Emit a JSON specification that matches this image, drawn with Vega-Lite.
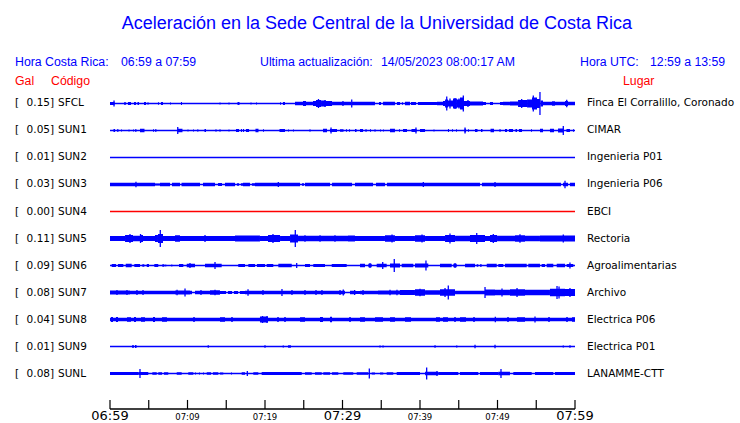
{
"$schema": "https://vega.github.io/schema/vega-lite/v6.json",
"width": 740, "height": 423,
"autosize": {"type": "none"},
"padding": 0,
"background": "white",
"config": {"view": {"stroke": null}},
"datasets": {
"stations": [
{"s":"SFCL","r":0,"gal":0.15,"lugar":"Finca El Corralillo, Coronado","col":"blue"},
{"s":"SUN1","r":1,"gal":0.05,"lugar":"CIMAR","col":"blue"},
{"s":"SUN2","r":2,"gal":0.01,"lugar":"Ingenieria P01","col":"blue"},
{"s":"SUN3","r":3,"gal":0.03,"lugar":"Ingenieria P06","col":"blue"},
{"s":"SUN4","r":4,"gal":0.00,"lugar":"EBCI","col":"red"},
{"s":"SUN5","r":5,"gal":0.11,"lugar":"Rectoria","col":"blue"},
{"s":"SUN6","r":6,"gal":0.09,"lugar":"Agroalimentarias","col":"blue"},
{"s":"SUN7","r":7,"gal":0.08,"lugar":"Archivo","col":"blue"},
{"s":"SUN8","r":8,"gal":0.04,"lugar":"Electrica P06","col":"blue"},
{"s":"SUN9","r":9,"gal":0.01,"lugar":"Electrica P01","col":"blue"},
{"s":"SUNL","r":10,"gal":0.08,"lugar":"LANAMME-CTT","col":"blue"}
],
"seg": [
{"s":"SFCL","t0":0,"t1":0.58,"a":3},{"s":"SFCL","t0":1.81,"t1":2.06,"a":2.5},{"s":"SFCL","t0":2.32,"t1":2.71,"a":3},{"s":"SFCL","t0":3.10,"t1":3.35,"a":3},{"s":"SFCL","t0":3.55,"t1":3.74,"a":3},{"s":"SFCL","t0":4.39,"t1":4.65,"a":3},{"s":"SFCL","t0":4.84,"t1":4.97,"a":2.5},{"s":"SFCL","t0":6.19,"t1":6.32,"a":2.5},{"s":"SFCL","t0":6.58,"t1":6.84,"a":3},{"s":"SFCL","t0":7.74,"t1":7.87,"a":2},{"s":"SFCL","t0":9.16,"t1":9.29,"a":3},{"s":"SFCL","t0":14.13,"t1":14.26,"a":2},{"s":"SFCL","t0":15.29,"t1":15.42,"a":2},{"s":"SFCL","t0":16.45,"t1":16.71,"a":3},{"s":"SFCL","t0":18.13,"t1":18.26,"a":2},{"s":"SFCL","t0":18.84,"t1":18.97,"a":2},{"s":"SFCL","t0":21.94,"t1":22.06,"a":2.5},{"s":"SFCL","t0":22.32,"t1":22.58,"a":3},
{"s":"SFCL","t0":23.87,"t1":24.90,"a":3.5},{"s":"SFCL","t0":24.90,"t1":25.29,"a":5},{"s":"SFCL","t0":25.29,"t1":26.19,"a":3.5},{"s":"SFCL","t0":26.19,"t1":26.58,"a":5},{"s":"SFCL","t0":26.58,"t1":27.23,"a":7},{"s":"SFCL","t0":27.23,"t1":27.87,"a":6},{"s":"SFCL","t0":27.87,"t1":28.65,"a":5},{"s":"SFCL","t0":28.65,"t1":31.10,"a":3.5},{"s":"SFCL","t0":31.23,"t1":34.19,"a":3.5},{"s":"SFCL","t0":34.71,"t1":34.97,"a":3},{"s":"SFCL","t0":35.23,"t1":36.77,"a":3.5},{"s":"SFCL","t0":37.03,"t1":37.42,"a":3},{"s":"SFCL","t0":37.68,"t1":37.81,"a":2.5},{"s":"SFCL","t0":38.06,"t1":38.71,"a":3.5},{"s":"SFCL","t0":38.84,"t1":39.48,"a":3},{"s":"SFCL","t0":39.74,"t1":42.19,"a":3},{"s":"SFCL","t0":42.19,"t1":42.97,"a":3.5},{"s":"SFCL","t0":42.97,"t1":43.23,"a":5},{"s":"SFCL","t0":43.23,"t1":43.61,"a":8},{"s":"SFCL","t0":43.61,"t1":44.26,"a":6},{"s":"SFCL","t0":44.26,"t1":44.77,"a":10},{"s":"SFCL","t0":44.77,"t1":45.16,"a":8},{"s":"SFCL","t0":45.16,"t1":45.68,"a":12},{"s":"SFCL","t0":45.68,"t1":46.45,"a":5},{"s":"SFCL","t0":46.45,"t1":48.13,"a":4},{"s":"SFCL","t0":48.13,"t1":48.52,"a":3},{"s":"SFCL","t0":49.03,"t1":49.42,"a":3},{"s":"SFCL","t0":50.32,"t1":50.71,"a":3},{"s":"SFCL","t0":50.71,"t1":51.61,"a":3.5},{"s":"SFCL","t0":51.61,"t1":52.65,"a":4},{"s":"SFCL","t0":52.65,"t1":53.81,"a":7},{"s":"SFCL","t0":53.81,"t1":54.45,"a":8},{"s":"SFCL","t0":54.45,"t1":55.10,"a":12},{"s":"SFCL","t0":55.10,"t1":55.48,"a":9},{"s":"SFCL","t0":55.55,"t1":55.87,"a":6},{"s":"SFCL","t0":55.87,"t1":57.03,"a":3.5},{"s":"SFCL","t0":57.03,"t1":57.42,"a":4.5},{"s":"SFCL","t0":57.42,"t1":58.71,"a":3.5},{"s":"SFCL","t0":58.71,"t1":59.10,"a":5},{"s":"SFCL","t0":59.10,"t1":60,"a":3.5},
{"s":"SUN1","t0":0.45,"t1":0.65,"a":3},{"s":"SUN1","t0":0.90,"t1":1.10,"a":2.5},{"s":"SUN1","t0":1.42,"t1":1.55,"a":2},{"s":"SUN1","t0":2.39,"t1":2.52,"a":2},{"s":"SUN1","t0":2.97,"t1":3.10,"a":2},{"s":"SUN1","t0":3.23,"t1":3.42,"a":2.5},{"s":"SUN1","t0":3.87,"t1":4.45,"a":3.5},{"s":"SUN1","t0":5.55,"t1":5.68,"a":2.5},{"s":"SUN1","t0":5.81,"t1":6.00,"a":2.5},{"s":"SUN1","t0":8.77,"t1":9.35,"a":3.5},{"s":"SUN1","t0":10.00,"t1":10.13,"a":2},{"s":"SUN1","t0":10.71,"t1":10.84,"a":2},{"s":"SUN1","t0":11.23,"t1":11.42,"a":2},{"s":"SUN1","t0":12.19,"t1":12.39,"a":3},{"s":"SUN1","t0":13.61,"t1":13.74,"a":2.5},{"s":"SUN1","t0":14.13,"t1":14.26,"a":2.5},{"s":"SUN1","t0":15.29,"t1":15.42,"a":2},{"s":"SUN1","t0":16.26,"t1":16.65,"a":3},{"s":"SUN1","t0":16.90,"t1":17.03,"a":3},{"s":"SUN1","t0":17.16,"t1":17.29,"a":3},{"s":"SUN1","t0":17.55,"t1":17.94,"a":3},{"s":"SUN1","t0":18.77,"t1":19.16,"a":3.5},{"s":"SUN1","t0":19.74,"t1":19.87,"a":2.5},{"s":"SUN1","t0":21.87,"t1":22.58,"a":3},{"s":"SUN1","t0":22.97,"t1":23.10,"a":2},{"s":"SUN1","t0":23.61,"t1":23.74,"a":2},{"s":"SUN1","t0":25.74,"t1":25.87,"a":2.5},{"s":"SUN1","t0":27.48,"t1":28.00,"a":3.5},{"s":"SUN1","t0":28.39,"t1":29.29,"a":3},{"s":"SUN1","t0":29.68,"t1":30.13,"a":2.5},{"s":"SUN1","t0":30.45,"t1":30.58,"a":2.5},{"s":"SUN1","t0":30.84,"t1":30.97,"a":2.5},{"s":"SUN1","t0":31.61,"t1":31.81,"a":3},{"s":"SUN1","t0":32.26,"t1":32.65,"a":3},{"s":"SUN1","t0":32.97,"t1":33.10,"a":3},{"s":"SUN1","t0":33.55,"t1":33.68,"a":2.5},{"s":"SUN1","t0":34.13,"t1":34.26,"a":2.5},{"s":"SUN1","t0":34.84,"t1":34.97,"a":2},{"s":"SUN1","t0":35.23,"t1":35.35,"a":2},{"s":"SUN1","t0":36.13,"t1":36.77,"a":3.5},{"s":"SUN1","t0":37.29,"t1":37.42,"a":2.5},{"s":"SUN1","t0":37.81,"t1":38.32,"a":3},{"s":"SUN1","t0":38.90,"t1":39.55,"a":3},{"s":"SUN1","t0":40.00,"t1":40.65,"a":3},{"s":"SUN1","t0":41.74,"t1":41.87,"a":2},{"s":"SUN1","t0":43.61,"t1":43.74,"a":3},{"s":"SUN1","t0":44.13,"t1":44.26,"a":2.5},{"s":"SUN1","t0":44.65,"t1":44.77,"a":2.5},{"s":"SUN1","t0":45.74,"t1":45.94,"a":3.5},{"s":"SUN1","t0":46.19,"t1":46.32,"a":2.5},{"s":"SUN1","t0":47.10,"t1":47.42,"a":3},{"s":"SUN1","t0":47.87,"t1":48.06,"a":3},{"s":"SUN1","t0":49.10,"t1":49.55,"a":3.5},{"s":"SUN1","t0":50.26,"t1":50.39,"a":3},{"s":"SUN1","t0":50.97,"t1":51.23,"a":3},{"s":"SUN1","t0":51.48,"t1":52.00,"a":3},{"s":"SUN1","t0":52.32,"t1":52.52,"a":3},{"s":"SUN1","t0":52.77,"t1":53.16,"a":3},{"s":"SUN1","t0":54.32,"t1":54.45,"a":2.5},{"s":"SUN1","t0":55.48,"t1":55.87,"a":3.5},{"s":"SUN1","t0":56.77,"t1":57.29,"a":3.5},{"s":"SUN1","t0":57.81,"t1":58.52,"a":4},{"s":"SUN1","t0":58.90,"t1":59.35,"a":3},{"s":"SUN1","t0":59.74,"t1":59.87,"a":2.5},
{"s":"SUN3","t0":0,"t1":5.81,"a":3.5},{"s":"SUN3","t0":5.81,"t1":6.45,"a":2},{"s":"SUN3","t0":6.45,"t1":7.74,"a":3.5},{"s":"SUN3","t0":8.00,"t1":9.03,"a":3.5},{"s":"SUN3","t0":9.23,"t1":11.61,"a":3.5},{"s":"SUN3","t0":12.00,"t1":13.55,"a":3.5},{"s":"SUN3","t0":13.94,"t1":14.45,"a":3},{"s":"SUN3","t0":14.84,"t1":16.13,"a":3.5},{"s":"SUN3","t0":16.39,"t1":16.65,"a":2.5},{"s":"SUN3","t0":16.90,"t1":17.16,"a":2.5},{"s":"SUN3","t0":17.16,"t1":18.06,"a":3.5},{"s":"SUN3","t0":18.32,"t1":18.71,"a":2.5},{"s":"SUN3","t0":18.71,"t1":24.52,"a":3.5},{"s":"SUN3","t0":24.77,"t1":25.03,"a":2.5},{"s":"SUN3","t0":25.16,"t1":28.39,"a":3.5},{"s":"SUN3","t0":28.65,"t1":31.23,"a":3.5},{"s":"SUN3","t0":31.61,"t1":33.94,"a":3.5},{"s":"SUN3","t0":34.32,"t1":35.48,"a":3.5},{"s":"SUN3","t0":35.74,"t1":47.74,"a":3.5},{"s":"SUN3","t0":48.00,"t1":58.19,"a":3.5},{"s":"SUN3","t0":58.45,"t1":59.10,"a":3.5},{"s":"SUN3","t0":59.35,"t1":60,"a":3.5},
{"s":"SUN5","t0":0,"t1":1.94,"a":5},{"s":"SUN5","t0":1.94,"t1":2.97,"a":7},{"s":"SUN5","t0":2.97,"t1":3.87,"a":5.5},{"s":"SUN5","t0":3.87,"t1":4.26,"a":7},{"s":"SUN5","t0":4.26,"t1":5.81,"a":5},{"s":"SUN5","t0":5.81,"t1":6.19,"a":7},{"s":"SUN5","t0":6.19,"t1":6.84,"a":9},{"s":"SUN5","t0":6.84,"t1":8.39,"a":5},{"s":"SUN5","t0":8.39,"t1":9.03,"a":6.5},{"s":"SUN5","t0":9.03,"t1":16.13,"a":5},{"s":"SUN5","t0":16.13,"t1":19.35,"a":6},{"s":"SUN5","t0":19.35,"t1":20.39,"a":5},{"s":"SUN5","t0":20.39,"t1":21.94,"a":7},{"s":"SUN5","t0":21.94,"t1":23.23,"a":5},{"s":"SUN5","t0":23.23,"t1":24.26,"a":8},{"s":"SUN5","t0":24.26,"t1":30.71,"a":5.5},{"s":"SUN5","t0":30.71,"t1":31.61,"a":6},{"s":"SUN5","t0":31.61,"t1":35.48,"a":5},{"s":"SUN5","t0":35.48,"t1":36.77,"a":6.5},{"s":"SUN5","t0":36.77,"t1":39.35,"a":5},{"s":"SUN5","t0":39.35,"t1":40.65,"a":6.5},{"s":"SUN5","t0":40.65,"t1":43.23,"a":5},{"s":"SUN5","t0":43.23,"t1":44.52,"a":7},{"s":"SUN5","t0":44.52,"t1":46.45,"a":5.5},{"s":"SUN5","t0":46.45,"t1":48.39,"a":7},{"s":"SUN5","t0":48.39,"t1":49.03,"a":5},{"s":"SUN5","t0":49.03,"t1":49.94,"a":7},{"s":"SUN5","t0":49.94,"t1":52.26,"a":5.5},{"s":"SUN5","t0":52.26,"t1":53.55,"a":6.5},{"s":"SUN5","t0":53.55,"t1":55.48,"a":5.5},{"s":"SUN5","t0":55.48,"t1":60,"a":6},
{"s":"SUN6","t0":0.22,"t1":0.77,"a":3},{"s":"SUN6","t0":1.03,"t1":1.72,"a":3},{"s":"SUN6","t0":2.03,"t1":2.80,"a":3.5},{"s":"SUN6","t0":3.14,"t1":3.87,"a":3},{"s":"SUN6","t0":4.17,"t1":4.43,"a":2.5},{"s":"SUN6","t0":4.74,"t1":5.03,"a":3},{"s":"SUN6","t0":5.72,"t1":6.23,"a":3},{"s":"SUN6","t0":6.75,"t1":7.01,"a":2.5},{"s":"SUN6","t0":7.14,"t1":7.26,"a":2},{"s":"SUN6","t0":7.91,"t1":8.04,"a":2},{"s":"SUN6","t0":8.90,"t1":9.46,"a":3},{"s":"SUN6","t0":9.90,"t1":10.97,"a":3.5},{"s":"SUN6","t0":12.26,"t1":14.41,"a":3.5},{"s":"SUN6","t0":16.55,"t1":17.42,"a":3},{"s":"SUN6","t0":17.85,"t1":18.71,"a":3},{"s":"SUN6","t0":18.97,"t1":20.00,"a":3},{"s":"SUN6","t0":20.22,"t1":21.07,"a":3},{"s":"SUN6","t0":21.72,"t1":23.45,"a":3.5},{"s":"SUN6","t0":25.16,"t1":25.81,"a":3},{"s":"SUN6","t0":26.23,"t1":27.74,"a":3},{"s":"SUN6","t0":28.61,"t1":30.54,"a":3},{"s":"SUN6","t0":32.26,"t1":32.90,"a":3.5},{"s":"SUN6","t0":33.33,"t1":33.77,"a":3.5},{"s":"SUN6","t0":34.41,"t1":35.70,"a":3.5},{"s":"SUN6","t0":36.13,"t1":37.42,"a":4},{"s":"SUN6","t0":37.64,"t1":39.14,"a":3.5},{"s":"SUN6","t0":39.35,"t1":41.07,"a":4},{"s":"SUN6","t0":42.58,"t1":44.09,"a":3.5},{"s":"SUN6","t0":44.30,"t1":44.74,"a":3.5},{"s":"SUN6","t0":45.81,"t1":47.10,"a":3.5},{"s":"SUN6","t0":47.32,"t1":47.52,"a":2.5},{"s":"SUN6","t0":47.74,"t1":47.96,"a":2.5},{"s":"SUN6","t0":48.61,"t1":49.90,"a":3.5},{"s":"SUN6","t0":50.10,"t1":50.75,"a":3},{"s":"SUN6","t0":50.97,"t1":53.77,"a":3.5},{"s":"SUN6","t0":53.97,"t1":55.48,"a":3.5},{"s":"SUN6","t0":55.70,"t1":56.13,"a":3},{"s":"SUN6","t0":56.35,"t1":57.20,"a":3.5},{"s":"SUN6","t0":57.64,"t1":58.71,"a":3.5},{"s":"SUN6","t0":58.93,"t1":59.78,"a":3},
{"s":"SUN7","t0":0,"t1":2.58,"a":4},{"s":"SUN7","t0":2.58,"t1":8.39,"a":3.5},{"s":"SUN7","t0":8.39,"t1":10.32,"a":4},{"s":"SUN7","t0":10.32,"t1":10.58,"a":3.5},{"s":"SUN7","t0":10.97,"t1":12.90,"a":3.5},{"s":"SUN7","t0":12.90,"t1":14.19,"a":4.5},{"s":"SUN7","t0":14.19,"t1":14.97,"a":3},{"s":"SUN7","t0":15.23,"t1":15.74,"a":3},{"s":"SUN7","t0":16.00,"t1":16.52,"a":3},{"s":"SUN7","t0":16.77,"t1":17.42,"a":3},{"s":"SUN7","t0":17.42,"t1":30.32,"a":3.5},{"s":"SUN7","t0":30.97,"t1":31.61,"a":3.5},{"s":"SUN7","t0":31.61,"t1":32.26,"a":3},{"s":"SUN7","t0":32.26,"t1":34.58,"a":3.5},{"s":"SUN7","t0":34.58,"t1":37.42,"a":4},{"s":"SUN7","t0":37.42,"t1":39.35,"a":5},{"s":"SUN7","t0":39.35,"t1":40.65,"a":6.5},{"s":"SUN7","t0":40.65,"t1":42.58,"a":4.5},{"s":"SUN7","t0":42.58,"t1":44.52,"a":6.5},{"s":"SUN7","t0":44.52,"t1":48.39,"a":3.5},{"s":"SUN7","t0":48.39,"t1":49.68,"a":6},{"s":"SUN7","t0":49.68,"t1":51.61,"a":5.5},{"s":"SUN7","t0":51.61,"t1":53.55,"a":6.5},{"s":"SUN7","t0":53.55,"t1":56.77,"a":5.5},{"s":"SUN7","t0":56.77,"t1":58.71,"a":7.5},{"s":"SUN7","t0":58.71,"t1":60,"a":7},
{"s":"SUN8","t0":0,"t1":60,"a":3.5},{"s":"SUN8","t0":0.13,"t1":0.39,"a":5},{"s":"SUN8","t0":0.77,"t1":1.03,"a":5},{"s":"SUN8","t0":2.19,"t1":2.71,"a":4.5},{"s":"SUN8","t0":3.10,"t1":3.35,"a":5},{"s":"SUN8","t0":4.00,"t1":4.52,"a":4.5},{"s":"SUN8","t0":5.55,"t1":5.81,"a":5},{"s":"SUN8","t0":6.71,"t1":7.35,"a":4.5},{"s":"SUN8","t0":10.71,"t1":10.97,"a":4.5},{"s":"SUN8","t0":14.19,"t1":14.84,"a":4.5},{"s":"SUN8","t0":15.61,"t1":15.87,"a":4.5},{"s":"SUN8","t0":19.35,"t1":20.39,"a":6},{"s":"SUN8","t0":21.55,"t1":21.81,"a":4.5},{"s":"SUN8","t0":22.45,"t1":22.71,"a":4.5},{"s":"SUN8","t0":24.52,"t1":25.16,"a":4.5},{"s":"SUN8","t0":27.10,"t1":27.48,"a":5},{"s":"SUN8","t0":28.39,"t1":28.65,"a":5.5},{"s":"SUN8","t0":30.84,"t1":31.10,"a":4.5},{"s":"SUN8","t0":32.26,"t1":32.90,"a":4.5},{"s":"SUN8","t0":34.19,"t1":35.23,"a":4.5},{"s":"SUN8","t0":36.13,"t1":36.77,"a":4.5},{"s":"SUN8","t0":38.06,"t1":38.84,"a":4.5},{"s":"SUN8","t0":42.06,"t1":42.58,"a":4.5},{"s":"SUN8","t0":42.97,"t1":43.61,"a":4.5},{"s":"SUN8","t0":44.39,"t1":44.65,"a":4.5},{"s":"SUN8","t0":45.16,"t1":45.94,"a":4.5},{"s":"SUN8","t0":46.84,"t1":47.10,"a":4.5},{"s":"SUN8","t0":51.23,"t1":51.48,"a":4.5},{"s":"SUN8","t0":52.52,"t1":53.55,"a":4.5},{"s":"SUN8","t0":56.52,"t1":56.77,"a":4.5},{"s":"SUN8","t0":58.84,"t1":59.10,"a":4.5},{"s":"SUN8","t0":59.61,"t1":60,"a":4.5},
{"s":"SUN9","t0":2.84,"t1":3.10,"a":2.5},{"s":"SUN9","t0":3.23,"t1":3.42,"a":3},
{"s":"SUNL","t0":0,"t1":3.65,"a":3},{"s":"SUNL","t0":3.65,"t1":4.94,"a":3},{"s":"SUNL","t0":5.46,"t1":6.03,"a":2.5},{"s":"SUNL","t0":6.23,"t1":6.71,"a":2.5},{"s":"SUNL","t0":6.97,"t1":7.52,"a":2.5},{"s":"SUNL","t0":8.61,"t1":9.25,"a":2.5},{"s":"SUNL","t0":10.10,"t1":10.75,"a":2.5},{"s":"SUNL","t0":10.97,"t1":11.10,"a":2},{"s":"SUNL","t0":11.48,"t1":11.61,"a":2},{"s":"SUNL","t0":12.00,"t1":12.13,"a":2},{"s":"SUNL","t0":12.48,"t1":13.03,"a":2.5},{"s":"SUNL","t0":13.29,"t1":13.97,"a":2.5},{"s":"SUNL","t0":14.19,"t1":14.62,"a":2},{"s":"SUNL","t0":15.61,"t1":15.74,"a":2},{"s":"SUNL","t0":16.99,"t1":17.42,"a":2.5},{"s":"SUNL","t0":18.49,"t1":19.14,"a":2.5},{"s":"SUNL","t0":19.57,"t1":24.74,"a":3},{"s":"SUNL","t0":25.16,"t1":26.03,"a":2.5},{"s":"SUNL","t0":26.45,"t1":27.32,"a":2.5},{"s":"SUNL","t0":27.52,"t1":28.39,"a":2.5},{"s":"SUNL","t0":28.65,"t1":29.46,"a":2.5},{"s":"SUNL","t0":30.10,"t1":31.39,"a":2.5},{"s":"SUNL","t0":31.83,"t1":33.33,"a":2.5},{"s":"SUNL","t0":33.77,"t1":34.19,"a":2},{"s":"SUNL","t0":34.84,"t1":35.26,"a":2},{"s":"SUNL","t0":35.70,"t1":36.55,"a":2.5},{"s":"SUNL","t0":36.99,"t1":40.00,"a":3},{"s":"SUNL","t0":40.65,"t1":42.36,"a":3.5},{"s":"SUNL","t0":42.36,"t1":44.94,"a":3},{"s":"SUNL","t0":45.16,"t1":47.52,"a":3},{"s":"SUNL","t0":47.74,"t1":50.10,"a":3},{"s":"SUNL","t0":50.10,"t1":51.61,"a":3.5},{"s":"SUNL","t0":52.04,"t1":54.41,"a":3},{"s":"SUNL","t0":54.84,"t1":57.20,"a":3},{"s":"SUNL","t0":57.42,"t1":60,"a":3}
],
"spk": [
{"s":"SFCL","t":0.52,"a":6},{"s":"SFCL","t":26.90,"a":9},{"s":"SFCL","t":27.74,"a":7},{"s":"SFCL","t":30.06,"a":5},{"s":"SFCL","t":31.19,"a":8},{"s":"SFCL","t":43.45,"a":14},{"s":"SFCL","t":43.87,"a":10},{"s":"SFCL","t":44.52,"a":11},{"s":"SFCL","t":45.03,"a":10},{"s":"SFCL","t":45.59,"a":16},{"s":"SFCL","t":46.19,"a":7},{"s":"SFCL","t":53.12,"a":9},{"s":"SFCL","t":54.62,"a":16},{"s":"SFCL","t":55.48,"a":23},{"s":"SFCL","t":58.93,"a":7.5},
{"s":"SUN1","t":8.74,"a":7},{"s":"SUN1","t":28.52,"a":6},{"s":"SUN1","t":39.48,"a":6},{"s":"SUN1","t":45.81,"a":6},{"s":"SUN1","t":58.49,"a":9},
{"s":"SUN3","t":3.35,"a":5.5},{"s":"SUN3","t":21.72,"a":5},{"s":"SUN3","t":40.43,"a":5},{"s":"SUN3","t":49.68,"a":5},{"s":"SUN3","t":58.71,"a":7.5},
{"s":"SUN5","t":2.58,"a":9},{"s":"SUN5","t":3.94,"a":9},{"s":"SUN5","t":6.49,"a":17},{"s":"SUN5","t":12.26,"a":7},{"s":"SUN5","t":21.03,"a":9},{"s":"SUN5","t":23.91,"a":17},{"s":"SUN5","t":25.16,"a":6.5},{"s":"SUN5","t":27.10,"a":6.5},{"s":"SUN5","t":29.03,"a":6.5},{"s":"SUN5","t":36.39,"a":8},{"s":"SUN5","t":40.26,"a":8},{"s":"SUN5","t":43.87,"a":10},{"s":"SUN5","t":47.32,"a":11},{"s":"SUN5","t":49.46,"a":9},{"s":"SUN5","t":52.90,"a":8.5},{"s":"SUN5","t":58.49,"a":8},
{"s":"SUN6","t":10.32,"a":5},{"s":"SUN6","t":13.55,"a":7},{"s":"SUN6","t":24.09,"a":5},{"s":"SUN6","t":33.55,"a":5},{"s":"SUN6","t":35.19,"a":7},{"s":"SUN6","t":36.68,"a":13},{"s":"SUN6","t":40.77,"a":10},{"s":"SUN6","t":44.52,"a":5},{"s":"SUN6","t":59.35,"a":6},
{"s":"SUN7","t":0.90,"a":5},{"s":"SUN7","t":2.19,"a":5},{"s":"SUN7","t":3.48,"a":5},{"s":"SUN7","t":4.26,"a":5},{"s":"SUN7","t":8.65,"a":5.5},{"s":"SUN7","t":9.68,"a":8},{"s":"SUN7","t":11.74,"a":5},{"s":"SUN7","t":13.55,"a":5.5},{"s":"SUN7","t":17.81,"a":6.5},{"s":"SUN7","t":19.74,"a":5},{"s":"SUN7","t":22.19,"a":7},{"s":"SUN7","t":23.48,"a":5},{"s":"SUN7","t":25.16,"a":5},{"s":"SUN7","t":26.58,"a":5},{"s":"SUN7","t":27.35,"a":5},{"s":"SUN7","t":29.68,"a":5},{"s":"SUN7","t":30.10,"a":6},{"s":"SUN7","t":31.57,"a":5},{"s":"SUN7","t":32.65,"a":5},{"s":"SUN7","t":36.13,"a":5.5},{"s":"SUN7","t":37.03,"a":5.5},{"s":"SUN7","t":40.00,"a":7.5},{"s":"SUN7","t":43.23,"a":9},{"s":"SUN7","t":43.65,"a":14},{"s":"SUN7","t":48.39,"a":11},{"s":"SUN7","t":50.58,"a":8},{"s":"SUN7","t":52.52,"a":9},{"s":"SUN7","t":57.68,"a":13},{"s":"SUN7","t":57.94,"a":12},{"s":"SUN7","t":59.35,"a":9},
{"s":"SUN8","t":19.68,"a":7},{"s":"SUN8","t":20.26,"a":7},{"s":"SUN8","t":49.72,"a":5.5},{"s":"SUN8","t":54.84,"a":6},
{"s":"SUN9","t":12.68,"a":2.5},{"s":"SUN9","t":20.00,"a":2.5},{"s":"SUN9","t":22.36,"a":2},{"s":"SUN9","t":23.06,"a":2.5},{"s":"SUN9","t":23.23,"a":3},{"s":"SUN9","t":34.84,"a":2},{"s":"SUN9","t":35.23,"a":2},{"s":"SUN9","t":41.94,"a":2.5},{"s":"SUN9","t":44.74,"a":2},{"s":"SUN9","t":47.10,"a":3.5},{"s":"SUN9","t":49.68,"a":3.5},{"s":"SUN9","t":58.49,"a":2},{"s":"SUN9","t":59.35,"a":2.5},
{"s":"SUNL","t":3.87,"a":9},{"s":"SUNL","t":17.72,"a":5},{"s":"SUNL","t":33.46,"a":10},{"s":"SUNL","t":40.86,"a":12},{"s":"SUNL","t":42.19,"a":5},{"s":"SUNL","t":50.45,"a":9}
],
"ticks": [
{"t":0,"lab":"06:59","big":true},{"t":5,"lab":"","big":false},{"t":10,"lab":"07:09","big":false},{"t":15,"lab":"","big":false},{"t":20,"lab":"07:19","big":false},{"t":25,"lab":"","big":false},{"t":30,"lab":"07:29","big":true},{"t":35,"lab":"","big":false},{"t":40,"lab":"07:39","big":false},{"t":45,"lab":"","big":false},{"t":50,"lab":"07:49","big":false},{"t":55,"lab":"","big":false},{"t":60,"lab":"07:59","big":true}
],
"header": [
{"txt":"Hora Costa Rica:","t":-12.258,"r":-1.407,"c":"azul"},
{"txt":"06:59 a 07:59","t":1.419,"r":-1.407,"c":"azul"},
{"txt":"Ultima actualización:","t":19.355,"r":-1.407,"c":"azul"},
{"txt":"14/05/2023 08:00:17 AM","t":34.968,"r":-1.407,"c":"azul"},
{"txt":"Hora UTC:","t":60.645,"r":-1.407,"c":"azul"},
{"txt":"12:59 a 13:59","t":69.677,"r":-1.407,"c":"azul"},
{"txt":"Gal","t":-12.258,"r":-0.678,"c":"rojo"},
{"txt":"Código","t":-7.613,"r":-0.678,"c":"rojo"},
{"txt":"Lugar","t":66.19,"r":-0.678,"c":"rojo"}
]
},
"layer": [
{"data": {"values": [{"txt": "Aceleración en la Sede Central de la Universidad de Costa Rica", "t": 34.45, "r": -2.741}]},
 "mark": {"type": "text", "align": "center", "baseline": "alphabetic", "font": "Liberation Sans", "fontSize": 18, "color": "#0000ff"},
 "encoding": {
  "x": {"field": "t", "type": "quantitative", "scale": {"type": "linear", "domain": [-14.1935, 81.2903], "nice": false, "zero": false}, "axis": null},
  "y": {"field": "r", "type": "quantitative", "scale": {"type": "linear", "domain": [-3.8333, 11.8333], "nice": false, "zero": false, "reverse": true}, "axis": null},
  "text": {"field": "txt"}}},
{"data": {"name": "header"},
 "mark": {"type": "text", "align": "left", "baseline": "alphabetic", "font": "Liberation Sans", "fontSize": 12.3},
 "encoding": {
  "x": {"field": "t", "type": "quantitative"},
  "y": {"field": "r", "type": "quantitative"},
  "text": {"field": "txt"}, "color": {"field": "c", "type": "nominal", "scale": {"domain": ["azul", "rojo"], "range": ["#0000ff", "#ff0000"]}, "legend": null}}},
{"data": {"name": "stations"},
 "mark": {"type": "text", "align": "left", "baseline": "middle", "font": "DejaVu Sans", "fontSize": 10.5, "color": "#000000"},
 "encoding": {"x": {"datum": -12.258, "type": "quantitative"}, "y": {"field": "r", "type": "quantitative"}, "text": {"value": "["}}},
{"data": {"name": "stations"},
 "mark": {"type": "text", "align": "right", "baseline": "middle", "font": "DejaVu Sans", "fontSize": 10.5, "color": "#000000"},
 "encoding": {"x": {"datum": -7.742, "type": "quantitative"}, "y": {"field": "r", "type": "quantitative"}, "text": {"field": "gal", "type": "quantitative", "format": ".2f"}}},
{"data": {"name": "stations"},
 "mark": {"type": "text", "align": "left", "baseline": "middle", "font": "DejaVu Sans", "fontSize": 10.5, "color": "#000000"},
 "encoding": {"x": {"datum": -7.742, "type": "quantitative"}, "y": {"field": "r", "type": "quantitative"}, "text": {"value": "]"}}},
{"data": {"name": "stations"},
 "mark": {"type": "text", "align": "left", "baseline": "middle", "font": "DejaVu Sans", "fontSize": 10.5, "color": "#000000"},
 "encoding": {"x": {"datum": -6.71, "type": "quantitative"}, "y": {"field": "r", "type": "quantitative"}, "text": {"field": "s"}}},
{"data": {"name": "stations"},
 "mark": {"type": "text", "align": "left", "baseline": "middle", "font": "DejaVu Sans", "fontSize": 10.5, "color": "#000000"},
 "encoding": {"x": {"datum": 61.548, "type": "quantitative"}, "y": {"field": "r", "type": "quantitative"}, "text": {"field": "lugar"}}},
{"data": {"name": "stations"},
 "mark": {"type": "rule", "strokeWidth": 1.4},
 "encoding": {"x": {"datum": 0, "type": "quantitative"}, "x2": {"datum": 60}, "y": {"field": "r", "type": "quantitative"}, "color": {"field": "col", "type": "nominal", "scale": {"domain": ["blue", "red"], "range": ["#0000ff", "#ff0000"]}, "legend": null}}},
{"data": {"name": "seg"},
 "transform": [{"lookup": "s", "from": {"data": {"name": "stations"}, "key": "s", "fields": ["r"]}}],
 "mark": {"type": "rule", "color": "#0000ff", "strokeCap": "butt"},
 "encoding": {"x": {"field": "t0", "type": "quantitative"}, "x2": {"field": "t1"}, "y": {"field": "r", "type": "quantitative"}, "strokeWidth": {"field": "a", "type": "quantitative", "scale": {"type": "linear", "domain": [0, 30], "range": [0, 30], "zero": true}, "legend": null}}},
{"data": {"name": "spk"},
 "transform": [{"lookup": "s", "from": {"data": {"name": "stations"}, "key": "s", "fields": ["r"]}}],
 "mark": {"type": "tick", "orient": "vertical", "color": "#0000ff", "thickness": 1.3, "opacity": 1},
 "encoding": {"x": {"field": "t", "type": "quantitative"}, "y": {"field": "r", "type": "quantitative"}, "size": {"field": "a", "type": "quantitative", "scale": {"type": "linear", "domain": [0, 30], "range": [0, 30], "zero": true}, "legend": null}}},
{"data": {"values": [{"k": 1}]},
 "mark": {"type": "rule", "color": "#000000", "strokeWidth": 1.5},
 "encoding": {"x": {"datum": 0, "type": "quantitative"}, "x2": {"datum": 60}, "y": {"datum": 11.315, "type": "quantitative"}}},
{"data": {"name": "ticks"},
 "mark": {"type": "rule", "color": "#000000", "strokeWidth": 1.2},
 "encoding": {"x": {"field": "t", "type": "quantitative"}, "y": {"datum": 10.98, "type": "quantitative"}, "y2": {"datum": 11.315}}},
{"data": {"name": "ticks"},
 "mark": {"type": "text", "align": "center", "baseline": "alphabetic", "font": "DejaVu Sans", "color": "#000000"},
 "encoding": {"x": {"field": "t", "type": "quantitative"}, "y": {"datum": 11.72, "type": "quantitative"}, "text": {"field": "lab"}, "size": {"condition": {"test": "datum.big", "value": 13}, "value": 8.5}}}
]
}
